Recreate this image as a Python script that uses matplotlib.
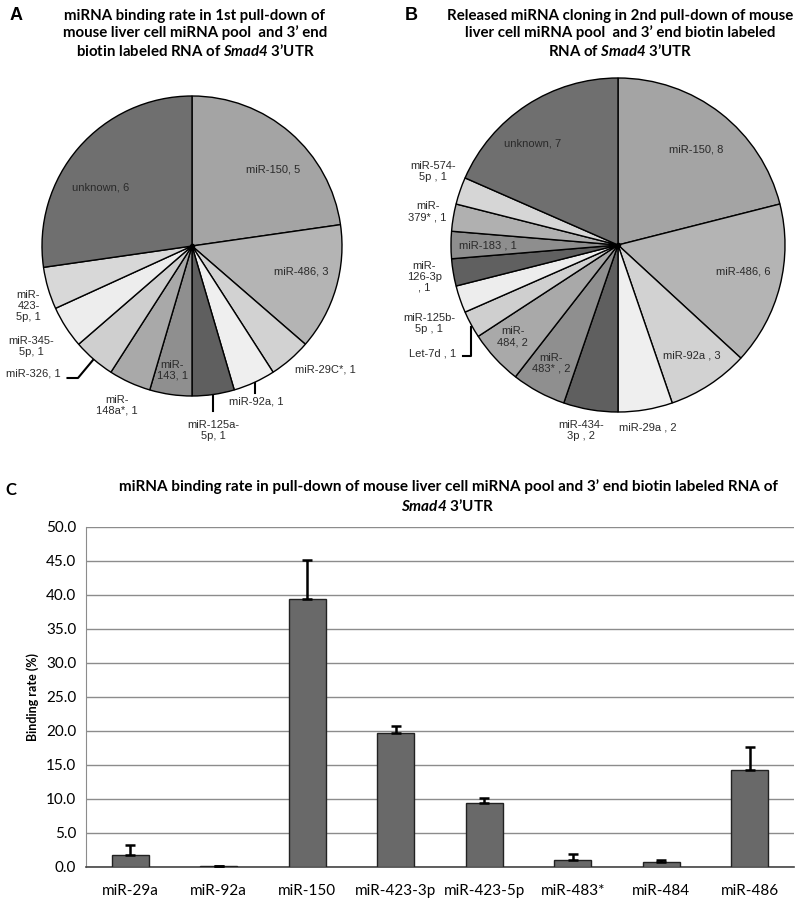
import numpy as np
import matplotlib
matplotlib.use("Agg")
import matplotlib.pyplot as plt

# mathtext is only used for the italic gene name
plt.rcParams["mathtext.fontset"] = "custom"
plt.rcParams["mathtext.it"] = "Lato:italic:bold"
plt.rcParams["mathtext.bf"] = "Lato:italic:bold"
plt.rcParams["mathtext.rm"] = "Lato:italic:bold"

# panel A data (clockwise from 12 o'clock)
a_names = ["miR-150", "miR-486", "miR-29C*", "miR-92a", "miR-125a-5p", "miR-143",
           "miR-148a*", "miR-326", "miR-345-5p", "miR-423-5p", "unknown"]
a_counts = [5, 3, 1, 1, 1, 1, 1, 1, 1, 1, 6]
a_labels = ["miR-150, 5", "miR-486, 3", "miR-29C*, 1", "miR-92a, 1", "miR-125a-\n5p, 1",
            "miR-\n143, 1", "miR-\n148a*, 1", "miR-326, 1", "miR-345-\n5p, 1",
            "miR-\n423-\n5p, 1", "unknown, 6"]
a_colors = ["#a4a4a4", "#b4b4b4", "#d2d2d2", "#efefef", "#5f5f5f", "#8f8f8f",
            "#a9a9a9", "#cfcfcf", "#ededed", "#d8d8d8", "#6f6f6f"]

# panel B data
b_names = ["miR-150", "miR-486", "miR-92a", "miR-29a", "miR-434-3p", "miR-483*", "miR-484",
           "Let-7d", "miR-125b-5p", "miR-126-3p", "miR-183", "miR-379*", "miR-574-5p", "unknown"]
b_counts = [8, 6, 3, 2, 2, 2, 2, 1, 1, 1, 1, 1, 1, 7]
b_labels = ["miR-150, 8", "miR-486, 6", "miR-92a , 3", "miR-29a , 2", "miR-434-\n3p , 2",
            "miR-\n483* , 2", "miR-\n484, 2", "Let-7d , 1", "miR-125b-\n5p , 1",
            "miR-\n126-3p\n, 1", "miR-183 , 1", "miR-\n379* , 1", "miR-574-\n5p , 1", "unknown, 7"]
b_colors = ["#a4a4a4", "#b4b4b4", "#d2d2d2", "#efefef", "#5f5f5f", "#8f8f8f",
            "#a9a9a9", "#cfcfcf", "#ededed", "#606060", "#8e8e8e", "#b0b0b0", "#d6d6d6", "#6f6f6f"]

# panel C data
c_names = ["miR-29a", "miR-92a", "miR-150", "miR-423-3p", "miR-423-5p", "miR-483*", "miR-484", "miR-486"]
c_rate = [1.7, 0.1, 39.4, 19.7, 9.4, 1.0, 0.8, 14.2]
c_err = [1.5, 0.0, 5.8, 1.0, 0.8, 0.9, 0.3, 3.4]

W, H = 800, 899
fig = plt.figure(figsize=(W / 100, H / 100), dpi=100)
fig.patch.set_facecolor("white")

def px_axes(x0, y0, x1, y1):
    return fig.add_axes([x0 / W, 1 - y1 / H, (x1 - x0) / W, (y1 - y0) / H])

tfont = ["Lato", "DejaVu Sans"]
lfont = ["Liberation Sans", "DejaVu Sans"]

def draw_pie(ax, counts, colors, labels, pos):
    ax.pie(counts, colors=colors, startangle=90, counterclock=False, radius=1,
           wedgeprops=dict(edgecolor="black", linewidth=1.0))
    ax.plot(0, 0, "o", color="black", ms=3)
    ax.set_xlim(-1, 1)
    ax.set_ylim(-1, 1)
    ax.set_aspect("auto")
    ax.axis("off")
    for lab, (x, y) in zip(labels, pos):
        ax.text(x, y, lab, ha="center", va="center", fontsize=8, color="#2a2a2a",
                family=lfont, linespacing=1.1, clip_on=False)

# label positions (pie coordinates)
a_pos = [(0.54, 0.51), (0.73, -0.17), (0.89, -0.82), (0.43, -1.04), (0.14, -1.23),
         (-0.13, -0.83), (-0.50, -1.06), (-1.06, -0.85), (-1.07, -0.67), (-1.09, -0.40),
         (-0.61, 0.39)]
b_pos = [(0.47, 0.57), (0.75, -0.16), (0.44, -0.66), (0.18, -1.09), (-0.22, -1.11),
         (-0.40, -0.71), (-0.63, -0.55), (-1.11, -0.65), (-1.13, -0.47), (-1.16, -0.19),
         (-0.78, 0.0), (-1.14, 0.20), (-1.11, 0.44), (-0.51, 0.61)]

axA = px_axes(42, 96, 342, 396)
draw_pie(axA, a_counts, a_colors, a_labels, a_pos)
# leader lines
axA.plot([0.42, 0.42], [-0.91, -0.98], color="black", lw=1.5, clip_on=False)
axA.plot([0.14, 0.14], [-0.99, -1.10], color="black", lw=1.5, clip_on=False)
axA.plot([-0.83, -0.76, -0.66], [-0.88, -0.88, -0.76], color="black", lw=1.5, clip_on=False)

axB = px_axes(451, 78, 785, 412)
draw_pie(axB, b_counts, b_colors, b_labels, b_pos)
axB.plot([-0.93, -0.88, -0.88], [-0.665, -0.665, -0.49], color="black", lw=1.5, clip_on=False)

# titles
fig.text(10 / W, 1 - 16 / H, "A", fontsize=13, fontweight="bold", family=lfont, va="center")
fig.text(195 / W, 1 - 34 / H,
         "miRNA binding rate in 1st pull-down of\nmouse liver cell miRNA pool  and 3\u2019 end\nbiotin labeled RNA of $Smad4$ 3\u2019UTR",
         ha="center", va="center", fontsize=10.8, fontweight="bold", family=tfont, linespacing=1.2)
fig.text(405 / W, 1 - 16 / H, "B", fontsize=13, fontweight="bold", family=lfont, va="center")
fig.text(620 / W, 1 - 34 / H,
         "Released miRNA cloning in 2nd pull-down of mouse\nliver cell miRNA pool  and 3\u2019 end biotin labeled\nRNA of $Smad4$ 3\u2019UTR",
         ha="center", va="center", fontsize=10.8, fontweight="bold", family=tfont, linespacing=1.2)
fig.text(5 / W, 1 - 490 / H, "C", fontsize=12, fontweight="bold", family=tfont, va="center")
fig.text(448 / W, 1 - 497 / H,
         "miRNA binding rate in pull-down of mouse liver cell miRNA pool and 3\u2019 end biotin labeled RNA of\n$Smad4$ 3\u2019UTR",
         ha="center", va="center", fontsize=11, fontweight="bold", family=tfont, linespacing=1.3)

# bar chart
axC = px_axes(86, 527, 794, 867)
x = np.arange(len(c_names))
axC.bar(x, c_rate, width=0.42, color="#696969", edgecolor="#222222", linewidth=1.0, zorder=3)
axC.errorbar(x, c_rate, yerr=[np.zeros(len(c_err)), c_err], fmt="none", ecolor="black",
             elinewidth=1.8, capsize=3.5, capthick=1.8, zorder=4)
axC.set_xlim(-0.5, len(c_names) - 0.5)
axC.set_ylim(0, 50)
axC.set_yticks(np.arange(0, 51, 5))
axC.set_yticklabels([f"{v:.1f}" for v in np.arange(0, 51, 5)], family=tfont, fontsize=11)
axC.set_xticks(x)
axC.set_xticklabels(c_names, family=tfont, fontsize=11)
axC.yaxis.grid(True, color="#8c8c8c", linewidth=1.0, zorder=0)
axC.tick_params(axis="both", length=0, pad=7)
axC.tick_params(axis="x", pad=12)
for s in ["top", "right"]:
    axC.spines[s].set_visible(False)
axC.spines["left"].set_color("#8c8c8c")
axC.spines["bottom"].set_color("#444444")
axC.spines["bottom"].set_linewidth(1.2)
axC.set_ylabel("Binding rate (%)", fontsize=9, fontweight="bold", family=tfont, labelpad=5)

fig.savefig("out.png", dpi=100)
